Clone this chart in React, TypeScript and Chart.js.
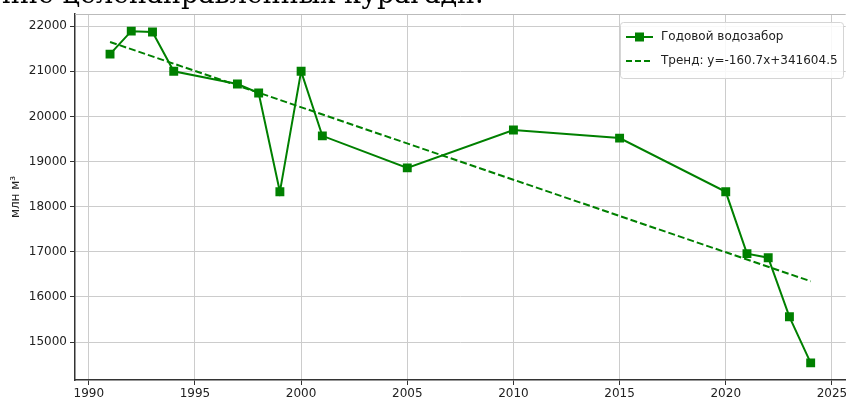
import React, { useEffect, useRef } from "react";
import { Chart, registerables } from "chart.js";

Chart.register(...registerables);

const years = [1991, 1992, 1993, 1994, 1997, 1998, 1999, 2000, 2001, 2005, 2010, 2015, 2020, 2021, 2022, 2023, 2024];
const withdrawal = [21380, 21890, 21870, 21000, 20720, 20520, 18330, 21000, 19570, 18860, 19700, 19520, 18330, 16960, 16870, 15560, 14540];
const trendYears = [1991, 2024];
const trendValues = [21651, 16348];
const xTicks = [1990, 1995, 2000, 2005, 2010, 2015, 2020, 2025];
const yTicks = [15000, 16000, 17000, 18000, 19000, 20000, 21000, 22000];
const seriesLabel = "Годовой водозабор";
const trendLabel = "Тренд: y=-160.7x+341604.5";
const yAxisLabel = "млн м³";
const topText = "ние целенаправленных курагади.";

const GREEN = "#008000";
const FONT = "'DejaVu Sans', sans-serif";

const framePlugin = {
  id: "frameLegend",
  afterDraw(chart: any) {
    const { ctx, chartArea } = chart;
    const { left, right, top } = chartArea;
    ctx.save();
    ctx.strokeStyle = "#bbbbbb";
    ctx.lineWidth = 1;
    ctx.beginPath();
    ctx.moveTo(left, top + 0.5);
    ctx.lineTo(right, top + 0.5);
    ctx.stroke();

    // legend
    const bx = 620, by = 22, bw = 223, bh = 56;
    ctx.fillStyle = "rgba(255,255,255,0.85)";
    ctx.strokeStyle = "#d5d5d5";
    ctx.lineWidth = 1;
    ctx.beginPath();
    (ctx as any).roundRect(bx + 0.5, by + 0.5, bw, bh, 3);
    ctx.fill();
    ctx.stroke();

    const y1 = 37, y2 = 61;
    ctx.strokeStyle = GREEN;
    ctx.lineWidth = 2;
    ctx.beginPath();
    ctx.moveTo(626, y1);
    ctx.lineTo(653, y1);
    ctx.stroke();
    ctx.fillStyle = GREEN;
    ctx.fillRect(635, y1 - 4.5, 9, 9);

    ctx.setLineDash([6, 3]);
    ctx.beginPath();
    ctx.moveTo(626, y2);
    ctx.lineTo(653, y2);
    ctx.stroke();
    ctx.setLineDash([]);

    ctx.fillStyle = "#222";
    ctx.font = `12px ${FONT}`;
    ctx.textBaseline = "middle";
    ctx.textAlign = "left";
    ctx.fillText(seriesLabel, 661, y1);
    ctx.fillText(trendLabel, 661, y2);
    ctx.restore();
  },
};

export default function App() {
  const ref = useRef<HTMLCanvasElement>(null);
  useEffect(() => {
    if (!ref.current) return;
    const chart = new Chart(ref.current, {
      type: "line",
      data: {
        datasets: [
          {
            label: seriesLabel,
            data: years.map((x, i) => ({ x, y: withdrawal[i] })),
            borderColor: GREEN,
            backgroundColor: GREEN,
            borderWidth: 2,
            pointStyle: "rect",
            pointRadius: 6.3,
            pointBorderWidth: 0,
            tension: 0,
          },
          {
            label: trendLabel,
            data: trendYears.map((x, i) => ({ x, y: trendValues[i] })),
            borderColor: GREEN,
            borderWidth: 2,
            borderDash: [7, 3],
            pointRadius: 0,
            tension: 0,
          },
        ],
      },
      options: {
        animation: false,
        responsive: false,
        maintainAspectRatio: false,
        layout: { padding: { left: 0, right: 0, top: 14, bottom: 0 } },
        plugins: { legend: { display: false }, tooltip: { enabled: false } },
        scales: {
          x: {
            type: "linear",
            min: 1989.35,
            max: 2025.65,
            afterBuildTicks: (s: any) => {
              s.ticks = xTicks.map((v) => ({ value: v }));
            },
            afterFit: (s: any) => {
              s.height = 24;
              s.paddingLeft = 0;
              s.paddingRight = 0;
            },
            ticks: {
              color: "#222",
              font: { family: FONT, size: 12 },
              padding: 2,
              maxRotation: 0,
              callback: (v: any) => String(v),
            },
            grid: { color: "#cccccc", lineWidth: 1, tickLength: 5, tickColor: "#333" },
            border: { display: true, color: "#333", width: 1.5 },
          },
          y: {
            type: "linear",
            min: 14160,
            max: 22270,
            afterBuildTicks: (s: any) => {
              s.ticks = yTicks.map((v) => ({ value: v }));
            },
            afterFit: (s: any) => {
              s.width = 75;
              s.paddingTop = 0;
              s.paddingBottom = 0;
            },
            ticks: {
              color: "#222",
              font: { family: FONT, size: 12 },
              padding: 3,
              callback: (v: any) => String(v),
            },
            grid: { color: "#cccccc", lineWidth: 1, tickLength: 5, tickColor: "#333" },
            border: { display: true, color: "#333", width: 1.5 },
            title: {
              display: true,
              text: yAxisLabel,
              color: "#222",
              font: { family: FONT, size: 12 },
              padding: { top: 9, bottom: 0 },
            },
          },
        },
      },
      plugins: [framePlugin],
    });
    return () => chart.destroy();
  }, []);

  return (
    <div style={{ position: "absolute", left: 0, top: 0, width: 846, height: 404, overflow: "hidden", background: "#fff" }}>
      <canvas ref={ref} width={852} height={404} style={{ position: "absolute", left: 0, top: 0 }} />
      <div
        style={{
          position: "absolute",
          left: 2,
          top: -21,
          fontFamily: "'DejaVu Serif', 'Liberation Serif', serif",
          fontSize: 27,
          color: "#000",
          whiteSpace: "nowrap",
          lineHeight: "30px",
        }}
      >
        {topText}
      </div>
    </div>
  );
}
